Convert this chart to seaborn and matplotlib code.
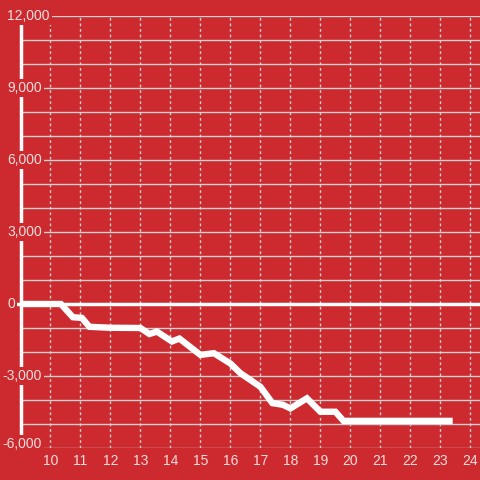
import numpy as np
import pandas as pd
import matplotlib
matplotlib.use("Agg")
import matplotlib.pyplot as plt
import seaborn as sns

# data
x_vals = [9.0, 10.35, 10.75, 11.05, 11.3, 12.0, 13.0, 13.3, 13.55, 14.05, 14.3,
          15.0, 15.45, 16.0, 16.33, 17.0, 17.4, 17.75, 18.0, 18.55, 19.0, 19.5,
          19.77, 23.41]
y_vals = [0, 0, -550, -580, -950, -990, -1000, -1250, -1150, -1560, -1440,
          -2120, -2050, -2480, -2880, -3450, -4130, -4200, -4350, -3930, -4490,
          -4490, -4870, -4870]
x_ticks = list(range(10, 25))
y_labels = [-6000, -3000, 0, 3000, 6000, 9000, 12000]
y_grid = list(range(-6000, 12001, 1000))

bg = "#cc2a2f"
grid_col = "#d0d0d0"
txt_col = "#f3dede"

sns.set_style("white")
plt.rcParams["font.family"] = ["Liberation Sans", "DejaVu Sans"]

df = pd.DataFrame({"x": x_vals, "y": y_vals})

fig = plt.figure(figsize=(4.8, 4.8), dpi=100, facecolor=bg)
ax = fig.add_axes([21 / 480, 32 / 480, 459 / 480, 432 / 480])
ax.set_facecolor(bg)

ax.set_xlim(9.02, 24.32)
ax.set_ylim(-6000, 12000)

# grid
for g in y_grid:
    ax.axhline(g, color=grid_col, lw=1, zorder=1)
ax.set_xticks(x_ticks)
ax.grid(axis="x", color=grid_col, lw=1, linestyle=(0, (2, 2)), zorder=1)
ax.set_yticks([])

# zero line
ax.axhline(0, xmin=-0.01, color="white", lw=2.5, zorder=2, clip_on=False)

sns.lineplot(data=df, x="x", y="y", ax=ax, color="white", lw=4.6,
             zorder=3, solid_capstyle="butt", solid_joinstyle="miter")

for s in ["top", "right", "bottom"]:
    ax.spines[s].set_visible(False)
ax.spines["left"].set_color("white")
ax.spines["left"].set_linewidth(2.5)
ax.spines["left"].set_zorder(4)

ax.tick_params(axis="x", length=0, pad=4, labelsize=10, labelcolor=txt_col)
ax.set_xlabel("")
ax.set_ylabel("")

ytrans = ax.get_yaxis_transform()
for v in y_labels:
    off = 7 - 21 - (4.6 if v < 0 else 0)
    va = "baseline" if v == -6000 else "center"
    ax.annotate(f"{v:,}", xy=(0, v), xycoords=ytrans, xytext=(off * 0.72, 0),
                textcoords="offset points", ha="left", va=va, fontsize=10,
                color=txt_col, zorder=6, annotation_clip=False,
                bbox=dict(boxstyle="square,pad=0.15", fc=bg, ec="none"))

fig.savefig("out.png", dpi=100, facecolor=bg)
